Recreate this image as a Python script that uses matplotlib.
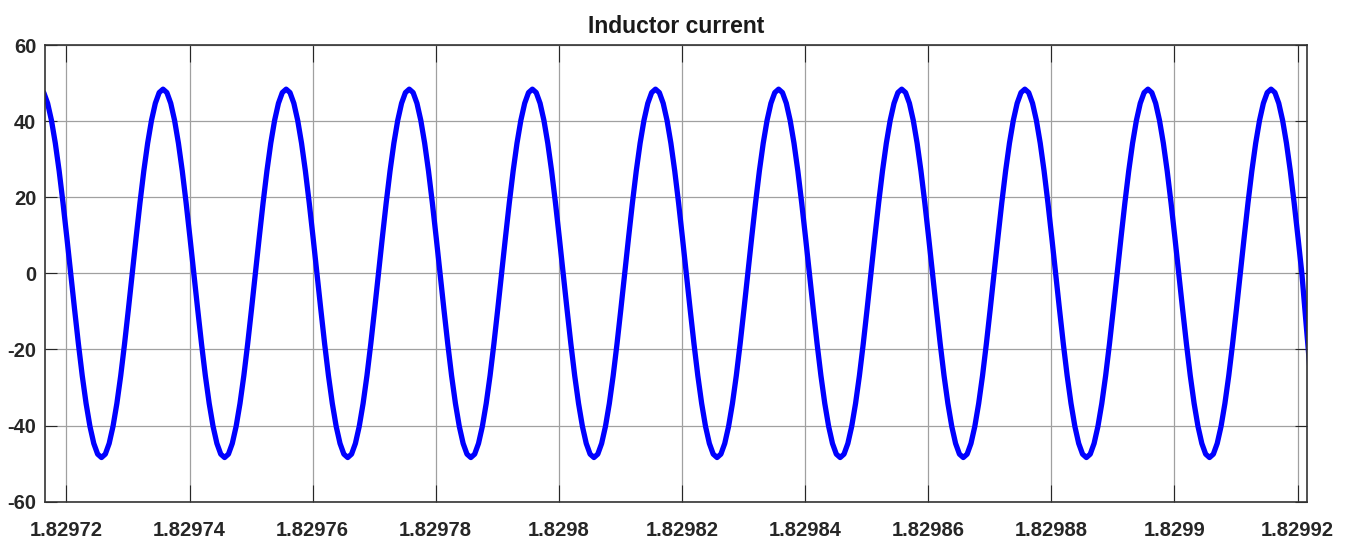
import numpy as np
import matplotlib
matplotlib.use("Agg")
import matplotlib.pyplot as plt

plt.rcParams['font.family'] = ['Liberation Sans', 'DejaVu Sans']
plt.rcParams['axes.unicode_minus'] = False

# sample times: first sample and step (s)
t_start = 1.8297157
t_step = 6.25e-7

# inductor current (A), one row per switching period
current = [
    48.4, 47.5, 44.7, 40.2, 34.2, 26.9, 18.5, 9.4, 0, -9.4, -18.5, -26.9, -34.2, -40.2, -44.7, -47.5, -48.4, -47.5, -44.7, -40.2, -34.2, -26.9, -18.5, -9.4, 0, 9.4, 18.5, 26.9, 34.2, 40.2, 44.7, 47.5,
    48.4, 47.5, 44.7, 40.2, 34.2, 26.9, 18.5, 9.4, 0, -9.4, -18.5, -26.9, -34.2, -40.2, -44.7, -47.5, -48.4, -47.5, -44.7, -40.2, -34.2, -26.9, -18.5, -9.4, 0, 9.4, 18.5, 26.9, 34.2, 40.2, 44.7, 47.5,
    48.4, 47.5, 44.7, 40.2, 34.2, 26.9, 18.5, 9.4, 0, -9.4, -18.5, -26.9, -34.2, -40.2, -44.7, -47.5, -48.4, -47.5, -44.7, -40.2, -34.2, -26.9, -18.5, -9.4, 0, 9.4, 18.5, 26.9, 34.2, 40.2, 44.7, 47.5,
    48.4, 47.5, 44.7, 40.2, 34.2, 26.9, 18.5, 9.4, 0, -9.4, -18.5, -26.9, -34.2, -40.2, -44.7, -47.5, -48.4, -47.5, -44.7, -40.2, -34.2, -26.9, -18.5, -9.4, 0, 9.4, 18.5, 26.9, 34.2, 40.2, 44.7, 47.5,
    48.4, 47.5, 44.7, 40.2, 34.2, 26.9, 18.5, 9.4, 0, -9.4, -18.5, -26.9, -34.2, -40.2, -44.7, -47.5, -48.4, -47.5, -44.7, -40.2, -34.2, -26.9, -18.5, -9.4, 0, 9.4, 18.5, 26.9, 34.2, 40.2, 44.7, 47.5,
    48.4, 47.5, 44.7, 40.2, 34.2, 26.9, 18.5, 9.4, 0, -9.4, -18.5, -26.9, -34.2, -40.2, -44.7, -47.5, -48.4, -47.5, -44.7, -40.2, -34.2, -26.9, -18.5, -9.4, 0, 9.4, 18.5, 26.9, 34.2, 40.2, 44.7, 47.5,
    48.4, 47.5, 44.7, 40.2, 34.2, 26.9, 18.5, 9.4, 0, -9.4, -18.5, -26.9, -34.2, -40.2, -44.7, -47.5, -48.4, -47.5, -44.7, -40.2, -34.2, -26.9, -18.5, -9.4, 0, 9.4, 18.5, 26.9, 34.2, 40.2, 44.7, 47.5,
    48.4, 47.5, 44.7, 40.2, 34.2, 26.9, 18.5, 9.4, 0, -9.4, -18.5, -26.9, -34.2, -40.2, -44.7, -47.5, -48.4, -47.5, -44.7, -40.2, -34.2, -26.9, -18.5, -9.4, 0, 9.4, 18.5, 26.9, 34.2, 40.2, 44.7, 47.5,
    48.4, 47.5, 44.7, 40.2, 34.2, 26.9, 18.5, 9.4, 0, -9.4, -18.5, -26.9, -34.2, -40.2, -44.7, -47.5, -48.4, -47.5, -44.7, -40.2, -34.2, -26.9, -18.5, -9.4, 0, 9.4, 18.5, 26.9, 34.2, 40.2, 44.7, 47.5,
    48.4, 47.5, 44.7, 40.2, 34.2, 26.9, 18.5, 9.4, 0, -9.4, -18.5, -26.9, -34.2, -40.2, -44.7, -47.5, -48.4, -47.5, -44.7, -40.2, -34.2, -26.9, -18.5, -9.4, 0, 9.4, 18.5, 26.9, 34.2, 40.2, 44.7, 47.5,
    48.4, 47.5, 44.7, 40.2, 34.2, 26.9, 18.5, 9.4, 0, -12.0, -24.0,
]

x_ticks = [1.82972, 1.82974, 1.82976, 1.82978, 1.8298, 1.82982,
           1.82984, 1.82986, 1.82988, 1.8299, 1.82992]
x_tick_labels = ['1.82972', '1.82974', '1.82976', '1.82978', '1.8298', '1.82982',
                 '1.82984', '1.82986', '1.82988', '1.8299', '1.82992']
y_ticks = [-60, -40, -20, 0, 20, 40, 60]
x_limits = (1.8297166, 1.8299215)
y_limits = (-60, 60)

time = t_start + np.arange(len(current)) * t_step

fig = plt.figure(figsize=(13.49, 5.49), dpi=100)
ax = fig.add_axes([0.0337, 0.0862, 0.935, 0.8318])

ax.plot(time, current, color='#0000ff', linewidth=3.8, solid_joinstyle='round')

ax.set_xlim(*x_limits)
ax.set_ylim(*y_limits)
ax.set_xticks(x_ticks)
ax.set_xticklabels(x_tick_labels)
ax.set_yticks(y_ticks)

ax.grid(True, color='#a0a0a0', linewidth=0.9)
ax.set_axisbelow(True)

for s in ax.spines.values():
    s.set_color('#333333')
    s.set_linewidth(1.2)

ax.tick_params(axis='both', direction='in', top=True, right=True,
               colors='#262626', width=0.8, labelsize=14.5)
ax.tick_params(axis='x', length=12, pad=14)
ax.tick_params(axis='y', length=8.5, pad=6.5)
for lbl in ax.get_xticklabels() + ax.get_yticklabels():
    lbl.set_fontweight('bold')

ax.set_title('Inductor current', fontsize=16.5, fontweight='bold', color='#1a1a1a', pad=8.6)

fig.savefig('out.png', dpi=100, facecolor='white')
